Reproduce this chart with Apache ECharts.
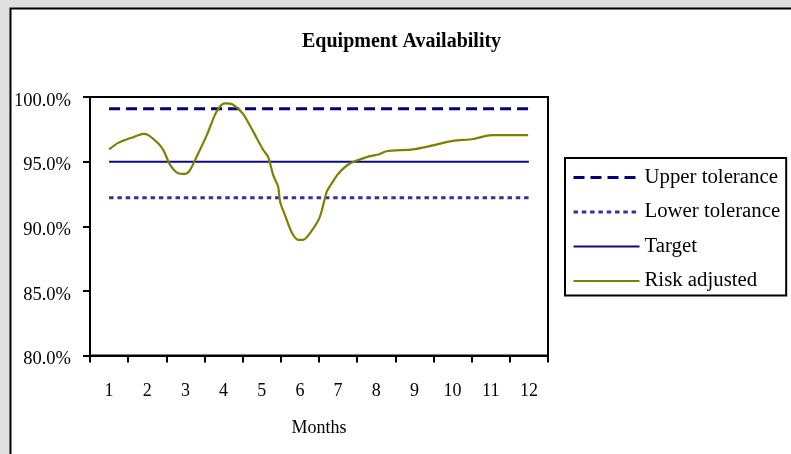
<!DOCTYPE html>
<html>
<head>
<meta charset="utf-8">
<script src="https://cdn.jsdelivr.net/npm/echarts@6/dist/echarts.min.js"></script>
<style>
  html, body { margin: 0; padding: 0; background: #dfdfdf; }
  #chart { width: 791px; height: 454px; }
</style>
</head>
<body>
<div id="chart"></div>
<script>
// Month categories shown on the x axis
const months = ['1', '2', '3', '4', '5', '6', '7', '8', '9', '10', '11', '12'];

// Tolerance band and target, one value per month (%)
const upperTolerance = [99.1, 99.1, 99.1, 99.1, 99.1, 99.1, 99.1, 99.1, 99.1, 99.1, 99.1, 99.1];
const lowerTolerance = [92.2, 92.2, 92.2, 92.2, 92.2, 92.2, 92.2, 92.2, 92.2, 92.2, 92.2, 92.2];
const target = [95, 95, 95, 95, 95, 95, 95, 95, 95, 95, 95, 95];

// Risk-adjusted availability, sampled within the months (position in months, value %)
const riskMonth = [1.00, 1.24, 1.59, 1.90, 2.03, 2.29, 2.42, 2.60, 2.81, 2.99, 3.12, 3.29, 3.56, 3.77, 3.90,
  4.03, 4.25, 4.51, 4.78, 5.04, 5.17, 5.30, 5.43, 5.48, 5.61, 5.78, 5.95, 6.08, 6.26, 6.52, 6.70, 6.83,
  7.00, 7.31, 7.75, 8.05, 8.27, 8.96, 9.40, 10.01, 10.54, 11.02, 11.98];
const riskValue = [95.95, 96.45, 96.85, 97.15, 97.05, 96.4, 95.9, 94.75, 94.1, 94.05, 94.35, 95.35, 97.05, 98.6, 99.25,
  99.5, 99.4, 98.7, 97.3, 95.9, 95.35, 93.95, 93.05, 91.9, 90.85, 89.55, 88.95, 88.95, 89.45, 90.7, 92.65, 93.3,
  94.05, 94.85, 95.35, 95.55, 95.8, 95.95, 96.2, 96.6, 96.75, 97.05, 97.05];

// Y axis range and step (%)
const yMin = 80, yMax = 100, yStep = 5;

const serif = 'Liberation Serif, Times New Roman, serif';
const chart = echarts.init(document.getElementById('chart'), null, { renderer: 'canvas' });

chart.setOption({
  backgroundColor: '#dfdfdf',
  animation: false,
  graphic: [{
    type: 'rect',
    z: -10,
    shape: { x: 10.5, y: 8.5, width: 800, height: 460 },
    style: { fill: '#ffffff', stroke: '#000000', lineWidth: 2 }
  }],
  title: {
    text: 'Equipment Availability',
    left: 302,
    top: 32,
    padding: 0,
    textStyle: { fontFamily: serif, fontWeight: 'bold', fontSize: 20, color: '#000' }
  },
  legend: {
    orient: 'vertical',
    left: 565,
    top: 158,
    padding: [9, 6, 4, 7],
    itemWidth: 66,
    itemHeight: 12,
    itemGap: 13.5,
    backgroundColor: '#ffffff',
    borderColor: '#000000',
    borderWidth: 2,
    itemStyle: { color: 'rgba(0,0,0,0)', borderWidth: 0 },
    lineStyle: { width: 'inherit' },
    textStyle: { fontFamily: serif, fontSize: 20.8, color: '#000' },
    data: ['Upper tolerance', 'Lower tolerance', 'Target', 'Risk adjusted']
  },
  grid: {
    left: 90, right: 243, top: 97, bottom: 98.5,
    show: true, borderColor: '#000', borderWidth: 2, backgroundColor: '#fff'
  },
  xAxis: [{
    type: 'category',
    data: months,
    boundaryGap: true,
    name: 'Months',
    nameLocation: 'middle',
    nameGap: 64,
    nameTextStyle: { fontFamily: serif, fontSize: 18, color: '#000' },
    axisLine: { lineStyle: { color: '#000', width: 2 } },
    axisTick: { show: true, length: 7, lineStyle: { color: '#000', width: 2 } },
    axisLabel: { margin: 27, fontFamily: serif, fontSize: 18, color: '#000' },
    splitLine: { show: false }
  }, {
    type: 'value',
    min: 0.5,
    max: 12.5,
    show: false,
    position: 'bottom'
  }],
  yAxis: {
    type: 'value',
    min: yMin,
    max: yMax,
    interval: yStep,
    axisLine: { show: true, lineStyle: { color: '#000', width: 2 } },
    axisTick: { show: true, length: 7, lineStyle: { color: '#000', width: 2 } },
    axisLabel: {
      margin: 19,
      verticalAlign: 'top',
      lineHeight: 8,
      fontFamily: serif, fontSize: 18.5, color: '#000',
      formatter: v => v.toFixed(1) + '%'
    },
    splitLine: { show: false }
  },
  series: [{
    name: 'Upper tolerance',
    type: 'line',
    xAxisIndex: 0,
    data: upperTolerance,
    symbol: 'none',
    lineStyle: { color: '#000080', width: 3, type: [11, 6] },
    itemStyle: { color: '#000080' }
  }, {
    name: 'Lower tolerance',
    type: 'line',
    xAxisIndex: 0,
    data: lowerTolerance,
    symbol: 'none',
    lineStyle: { color: '#333399', width: 3, type: [4.5, 3.8] },
    itemStyle: { color: '#333399' }
  }, {
    name: 'Target',
    type: 'line',
    xAxisIndex: 0,
    data: target,
    symbol: 'none',
    lineStyle: { color: '#0c0c84', width: 2 },
    itemStyle: { color: '#0c0c84' }
  }, {
    name: 'Risk adjusted',
    type: 'line',
    xAxisIndex: 1,
    data: riskMonth.map((m, i) => [m, riskValue[i]]),
    symbol: 'none',
    smooth: 0.25,
    lineStyle: { color: '#808000', width: 2.2 },
    itemStyle: { color: '#808000' }
  }]
});
</script>
</body>
</html>
